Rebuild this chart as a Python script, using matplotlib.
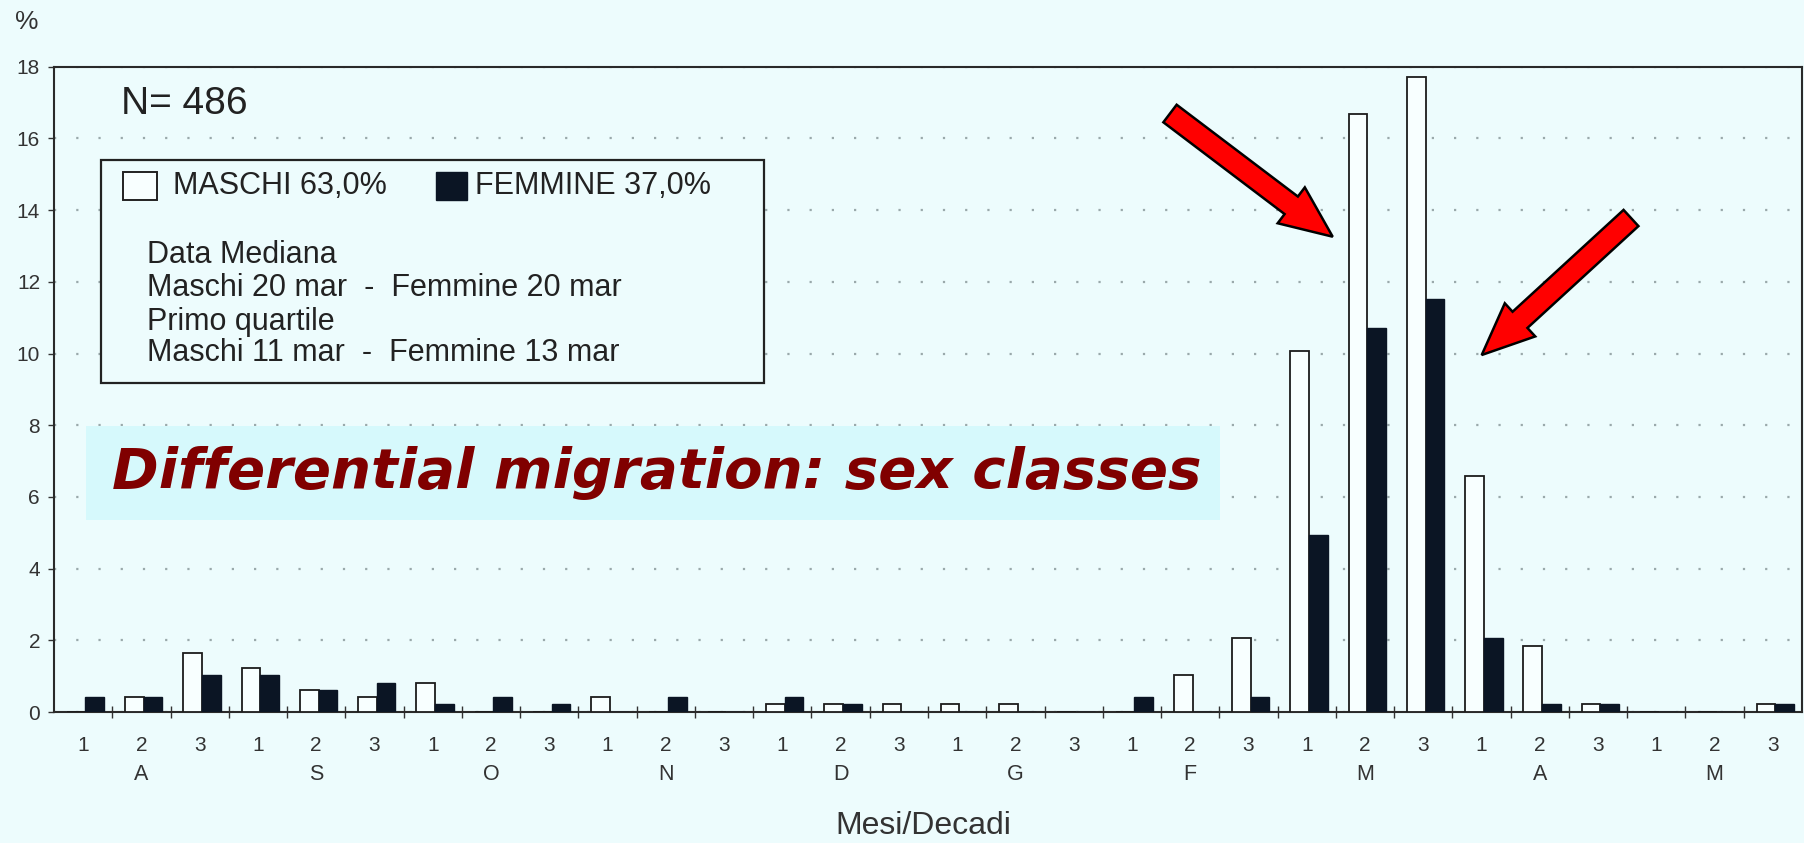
import numpy as np
import matplotlib.pyplot as plt
from matplotlib.patches import Rectangle, FancyArrow
from matplotlib.transforms import IdentityTransform, blended_transform_factory

plt.rcParams['font.family'] = ['Liberation Sans', 'DejaVu Sans']

# decadi (10-day periods) from August to May
decadi = ['1', '2', '3'] * 10
mesi = ['A', 'S', 'O', 'N', 'D', 'G', 'F', 'M', 'A', 'M']

# percentages of the total sample (N = 486)
maschi = [0, 0.41, 1.65, 1.23, 0.62, 0.41, 0.82, 0, 0, 0.41,
          0, 0, 0.21, 0.21, 0.21, 0.21, 0.21, 0, 0, 1.03,
          2.06, 10.08, 16.67, 17.70, 6.58, 1.85, 0.21, 0, 0, 0.21]
femmine = [0.41, 0.41, 1.03, 1.03, 0.62, 0.82, 0.21, 0.41, 0.21, 0,
           0.41, 0, 0.41, 0.21, 0, 0, 0, 0, 0.41, 0,
           0.41, 4.94, 10.70, 11.52, 2.06, 0.21, 0.21, 0, 0, 0.21]

legend_lines = ['Data Mediana',
                'Maschi 20 mar  -  Femmine 20 mar',
                'Primo quartile',
                'Maschi 11 mar  -  Femmine 13 mar']

W, H = 1804, 843
bg = '#edfcfd'
ink = '#222222'


def fx(px):
    return px / W


def fy(py):
    return 1 - py / H


fig = plt.figure(figsize=(W / 100, H / 100), dpi=100)
fig.patch.set_facecolor(bg)
ax = fig.add_axes([fx(54), fy(712), (1802 - 54) / W, (712 - 66.7) / H])
ax.set_facecolor(bg)

x = np.arange(len(maschi))
ax.bar(x - 0.12, maschi, width=0.32, color='#f8ffff', edgecolor='#1c1c1c',
       linewidth=1.3, zorder=3)
ax.bar(x + 0.20, femmine, width=0.32, color='#0b1524', edgecolor='#0b1524',
       linewidth=1.0, zorder=3)

ax.set_xlim(-0.5, 29.5)
ax.set_ylim(0, 18)
ax.set_yticks(range(0, 19, 2))
ax.yaxis.grid(True, linestyle=(0, (1, 9)), color='#9aa9ab', linewidth=1.6)
ax.set_axisbelow(True)

for s in ax.spines.values():
    s.set_color('#2a2a2a')
    s.set_linewidth(1.5)

ax.tick_params(axis='y', direction='out', length=4, width=1, pad=6,
               labelsize=15, labelcolor='#333333', color='#333333')
ax.set_xticks(x)
ax.set_xticklabels(decadi)
ax.tick_params(axis='x', which='major', length=0, pad=17, labelsize=15,
               labelcolor='#333333')
ax.set_xticks(np.arange(0.5, 29, 1), minor=True)
ax.tick_params(axis='x', which='minor', direction='inout', length=9, width=1,
               color='#333333')

trans = blended_transform_factory(ax.transData, ax.transAxes)
for i, m in enumerate(mesi):
    ax.text(i * 3 + 1, -0.097, m, transform=trans, ha='center', va='center',
            fontsize=15.5, color='#333333')

fig.text(fx(923), fy(826), 'Mesi/Decadi', ha='center', va='center',
         fontsize=23, color='#333333')
fig.text(fx(27), fy(22), '%', ha='center', va='center', fontsize=19,
         color='#333333')
fig.text(fx(121), fy(104), 'N= 486', ha='left', va='center', fontsize=28,
         color=ink)

# legend box with median and first-quartile dates
fig.patches.append(Rectangle((fx(101), fy(383)), (764 - 101) / W, (383 - 160) / H,
                             transform=fig.transFigure, facecolor=bg,
                             edgecolor=ink, linewidth=1.6, zorder=4))
fig.patches.append(Rectangle((fx(123), fy(200)), 34 / W, 28 / H,
                             transform=fig.transFigure, facecolor='#f8ffff',
                             edgecolor=ink, linewidth=1.4, zorder=5))
fig.patches.append(Rectangle((fx(436), fy(200)), 31 / W, 28 / H,
                             transform=fig.transFigure, facecolor='#0b1524',
                             edgecolor='#0b1524', linewidth=1, zorder=5))
fig.text(fx(173), fy(186), 'MASCHI 63,0%', ha='left', va='center',
         fontsize=22, color=ink, zorder=6)
fig.text(fx(475), fy(186), 'FEMMINE 37,0%', ha='left', va='center',
         fontsize=22, color=ink, zorder=6)
for line, py in zip(legend_lines, [255, 288, 322, 353]):
    fig.text(fx(147), fy(py), line, ha='left', va='center', fontsize=22,
             color=ink, zorder=6)

# title banner
fig.patches.append(Rectangle((fx(86), fy(520)), (1220 - 86) / W, (520 - 426) / H,
                             transform=fig.transFigure, facecolor='#d6f9fc',
                             edgecolor='none', zorder=4))
fig.text(fx(112), fy(473), 'Differential migration: sex classes',
         ha='left', va='center', fontsize=40.5, fontweight='bold',
         fontstyle='oblique', family='DejaVu Sans', color='#800000', zorder=6)

# red arrows pointing at the peak decades
for (x0, y0), (x1, y1) in [((1170, 113.5), (1332.7, 236.7)),
                           ((1631, 218), (1481.7, 355))]:
    arr = FancyArrow(x0, H - y0, x1 - x0, y0 - y1, width=22, head_width=45,
                     head_length=52, length_includes_head=True,
                     facecolor='#ff0000', edgecolor='black', linewidth=1.8,
                     transform=IdentityTransform(), zorder=7)
    fig.add_artist(arr)

fig.savefig('out.png', dpi=100, facecolor=bg)
